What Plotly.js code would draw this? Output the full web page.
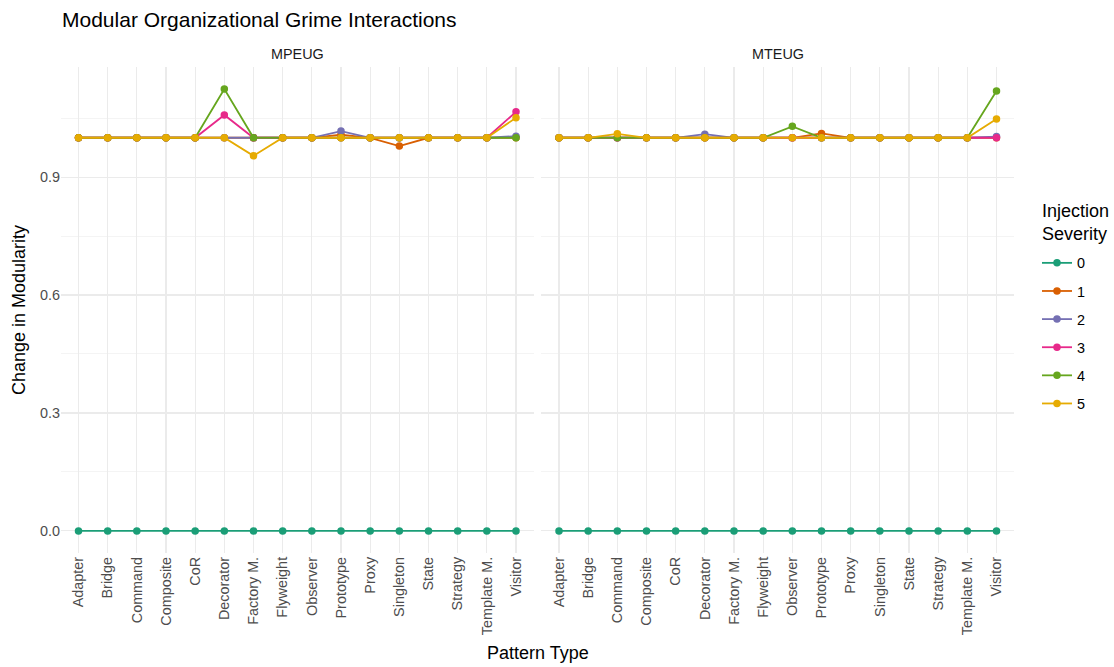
<!DOCTYPE html>
<html><head><meta charset="utf-8">
<script src="https://cdn.plot.ly/plotly-3.0.1.min.js"></script>
<style>html,body{margin:0;padding:0;background:#fff}#c{width:1114px;height:667px}</style>
</head><body><div id="c"></div>
<script>
const patterns = ["Adapter","Bridge","Command","Composite","CoR","Decorator","Factory M.","Flyweight","Observer","Prototype","Proxy","Singleton","State","Strategy","Template M.","Visitor"];
const severities = ["0","1","2","3","4","5"];
const colors = ["#1B9E77","#D95F02","#7570B3","#E7298A","#66A61E","#E6AB02"];
const panels = ["MPEUG","MTEUG"];

// MPEUG
const mpeug0 = [0,0,0,0,0,0,0,0,0,0,0,0,0,0,0,0];
const mpeug1 = [1,1,1,1,1,1,1,1,1,1.008,1,0.979,1,1,1,1];
const mpeug2 = [1,1,1,1,1,1,1,1,1,1.017,1,1,1,1,1,1.004];
const mpeug3 = [1,1,1,1,1,1.058,1,1,1,1,1,1,1,1,1,1.066];
const mpeug4 = [1,1,1,1,1,1.124,1,1,1,1,1,1,1,1,1,1];
const mpeug5 = [1,1,1,1,1,1,0.954,1,1,1,1,1,1,1,1,1.051];
// MTEUG
const mteug0 = [0,0,0,0,0,0,0,0,0,0,0,0,0,0,0,0];
const mteug1 = [1,1,1,1,1,1,1,1,1,1.011,1,1,1,1,1,1];
const mteug2 = [1,1,1,1,1,1.009,1,1,1,1,1,1,1,1,1,1.003];
const mteug3 = [1,1,1,1,1,1,1,1,1,1,1,1,1,1,1,1];
const mteug4 = [1,1,1,1,1,1,1,1,1.029,1,1,1,1,1,1,1.119];
const mteug5 = [1,1,1.010,1,1,1,1,1,1,1,1,1,1,1,1,1.048];

const yTickVals = [0,0.3,0.6,0.9];
const yTickText = ["0.0","0.3","0.6","0.9"];

const seriesSets = [[mpeug0,mpeug1,mpeug2,mpeug3,mpeug4,mpeug5],[mteug0,mteug1,mteug2,mteug3,mteug4,mteug5]];
const traces = [];
seriesSets.forEach((set, p) => {
  set.forEach((vals, i) => {
    traces.push({
      type: "scatter", mode: "lines+markers",
      x: patterns, y: vals,
      xaxis: p === 0 ? "x" : "x2", yaxis: p === 0 ? "y" : "y2",
      name: severities[i], legendgroup: severities[i], showlegend: p === 0,
      line: {color: colors[i], width: 1.8},
      marker: {color: colors[i], size: 7.5},
      hoverinfo: "skip"
    });
  });
});

const FONT = "Liberation Sans, Arial, sans-serif";
const grid = "#EBEBEB";
const xBase = {
  type: "category", categoryorder: "array", categoryarray: patterns, automargin: false,
  range: [-0.6, 15.6], tickangle: -90, showgrid: true, gridcolor: grid, gridwidth: 1.1,
  zeroline: false, showline: false, ticks: "", ticklen: 0,
  tickfont: {family: FONT, size: 14.4, color: "#4D4D4D"}
};
const yBase = {
  range: [-0.0562, 1.18], tickmode: "array", tickvals: yTickVals, ticktext: yTickText, automargin: false,
  showgrid: true, gridcolor: grid, gridwidth: 1.1, zeroline: false, showline: false, ticks: "",
  minor: {tickmode: "array", tickvals: [0.15,0.45,0.75,1.05], showgrid: true, gridcolor: grid, gridwidth: 0.55},
  tickfont: {family: FONT, size: 14.4, color: "#4D4D4D"}
};

const W = 1114, H = 667;
const pL = 60.5, pR1 = 533.5, pL2 = 541.5, pR = 1014.5, pT = 67, pB = 553;
const layout = {
  width: W, height: H,
  margin: {l: pL, r: W - pR, t: pT, b: H - pB, autoexpand: false},
  paper_bgcolor: "#fff", plot_bgcolor: "#fff",
  font: {family: FONT, color: "#000"},
  title: {text: "Modular Organizational Grime Interactions", x: 62/W, xanchor: "left", y: 1 - 20/H, yanchor: "middle",
          font: {size: 21, color: "#000"}},
  xaxis: Object.assign({}, xBase, {domain: [0, (pR1 - pL)/(pR - pL)], anchor: "y"}),
  xaxis2: Object.assign({}, xBase, {domain: [(pL2 - pL)/(pR - pL), 1], anchor: "y2"}),
  yaxis: Object.assign({}, yBase, {anchor: "x", domain: [0,1]}),
  yaxis2: Object.assign({}, yBase, {anchor: "x2", domain: [0,1], matches: "y", showticklabels: false}),
  showlegend: true,
  legend: {
    x: 1037/W, xanchor: "left", xref: "container", y: 1 - 247/H, yanchor: "top", yref: "container",
    font: {size: 14.4, color: "#000"}, tracegroupgap: 6.4, itemwidth: 30, bgcolor: "rgba(0,0,0,0)"
  },
  annotations: [
    {text: "MPEUG", xref: "paper", yref: "paper", x: (297 - pL)/(pR - pL), y: 1, yshift: 13, showarrow: false,
     font: {size: 14.4, color: "#1A1A1A"}, xanchor: "center", yanchor: "middle"},
    {text: "MTEUG", xref: "paper", yref: "paper", x: (778 - pL)/(pR - pL), y: 1, yshift: 13, showarrow: false,
     font: {size: 14.4, color: "#1A1A1A"}, xanchor: "center", yanchor: "middle"},
    {text: "Pattern Type", xref: "paper", yref: "paper", x: 0.5, y: 0, yshift: -(653 - pB), showarrow: false,
     font: {size: 18, color: "#000"}, xanchor: "center", yanchor: "middle"},
    {text: "Change in Modularity", xref: "paper", yref: "paper", x: 0, xshift: -(pL - 18.5), y: 0.5, textangle: -90,
     showarrow: false, font: {size: 18, color: "#000"}, xanchor: "center", yanchor: "middle"},
    {text: "Injection<br>Severity", xref: "paper", yref: "paper", x: (1041 - pL)/(pR - pL), xanchor: "left",
     y: 1, yshift: -(222 - pT), yanchor: "middle", align: "left", showarrow: false,
     font: {size: 18, color: "#000"}}
  ]
};

Plotly.newPlot("c", traces, layout, {displayModeBar: false, staticPlot: true});
</script></body></html>
